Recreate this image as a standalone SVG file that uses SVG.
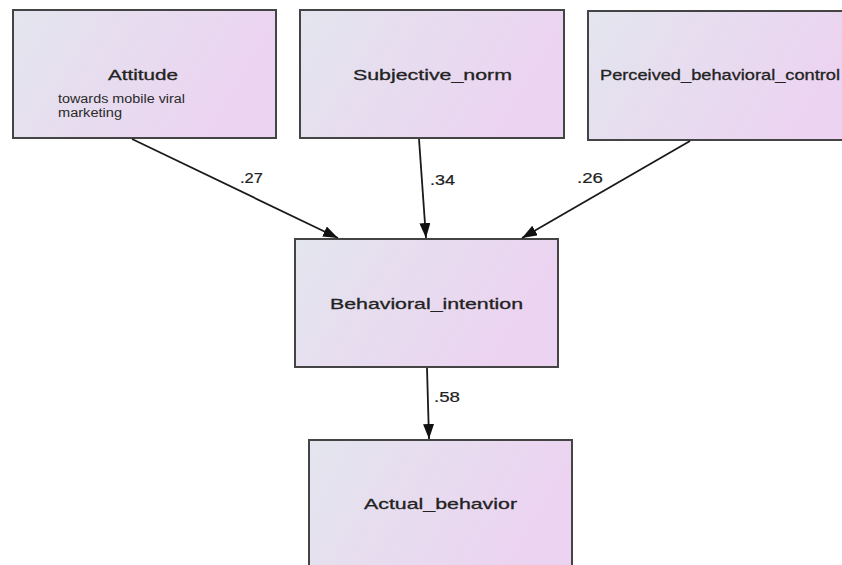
<svg xmlns="http://www.w3.org/2000/svg" width="842" height="565" viewBox="0 0 842 565">
<defs>
<linearGradient id="g" x1="0" y1="0" x2="1" y2="0.3">
<stop offset="0" stop-color="#e3e5ee"/>
<stop offset="1" stop-color="#ecd3f1"/>
</linearGradient>
<marker id="ah" viewBox="0 0 15 11" refX="15" refY="5.5" markerWidth="15" markerHeight="11" markerUnits="userSpaceOnUse" orient="auto">
<path d="M0,0 L15,5.5 L0,11 z" fill="#111"/>
</marker>
<style>
.box{fill:url(#g);stroke:#444;stroke-width:2}
.t{font-family:"Liberation Sans",Arial,sans-serif;font-size:15px;fill:#222;stroke:#222;stroke-width:0.3}
.s{font-family:"Liberation Sans",Arial,sans-serif;font-size:12px;fill:#2a2a2a}
.n{font-family:"Liberation Sans",Arial,sans-serif;font-size:14.5px;fill:#222;stroke:#222;stroke-width:0.2}
.c{stroke:#1a1a1a;stroke-width:1.8;fill:none;marker-end:url(#ah)}
</style>
</defs>
<rect width="842" height="565" fill="#fff"/>
<g id="attitude">
<rect class="box" x="13" y="10" width="263" height="128"/>
<text class="t" x="108" y="80" textLength="70" lengthAdjust="spacingAndGlyphs">Attitude</text>
<text class="s" x="58" y="103" textLength="127" lengthAdjust="spacingAndGlyphs">towards mobile viral</text>
<text class="s" x="58" y="117" textLength="64" lengthAdjust="spacingAndGlyphs">marketing</text>
</g>
<g id="subjective_norm">
<rect class="box" x="300" y="10" width="264" height="128"/>
<text class="t" x="353" y="80" textLength="159" lengthAdjust="spacingAndGlyphs">Subjective_norm</text>
</g>
<g id="perceived_behavioral_control">
<rect class="box" x="588" y="11" width="270" height="129"/>
<text class="t" x="600" y="80" textLength="240" lengthAdjust="spacingAndGlyphs">Perceived_behavioral_control</text>
</g>
<g id="behavioral_intention">
<rect class="box" x="295" y="239" width="263" height="128"/>
<text class="t" x="330" y="309" textLength="193" lengthAdjust="spacingAndGlyphs">Behavioral_intention</text>
</g>
<g id="actual_behavior">
<rect class="box" x="309" y="440" width="263" height="140"/>
<text class="t" x="364" y="509" textLength="153" lengthAdjust="spacingAndGlyphs">Actual_behavior</text>
</g>
<g id="connectors">
<line class="c" x1="132" y1="139" x2="338" y2="238"/>
<line class="c" x1="419" y1="139" x2="426" y2="238"/>
<line class="c" x1="690" y1="141" x2="522" y2="238"/>
<line class="c" x1="427" y1="368" x2="429" y2="439"/>
<text class="n" x="240" y="183" textLength="23" lengthAdjust="spacingAndGlyphs">.27</text>
<text class="n" x="430" y="185" textLength="25" lengthAdjust="spacingAndGlyphs">.34</text>
<text class="n" x="577" y="183" textLength="26" lengthAdjust="spacingAndGlyphs">.26</text>
<text class="n" x="434" y="402" textLength="26" lengthAdjust="spacingAndGlyphs">.58</text>
</g>
</svg>
